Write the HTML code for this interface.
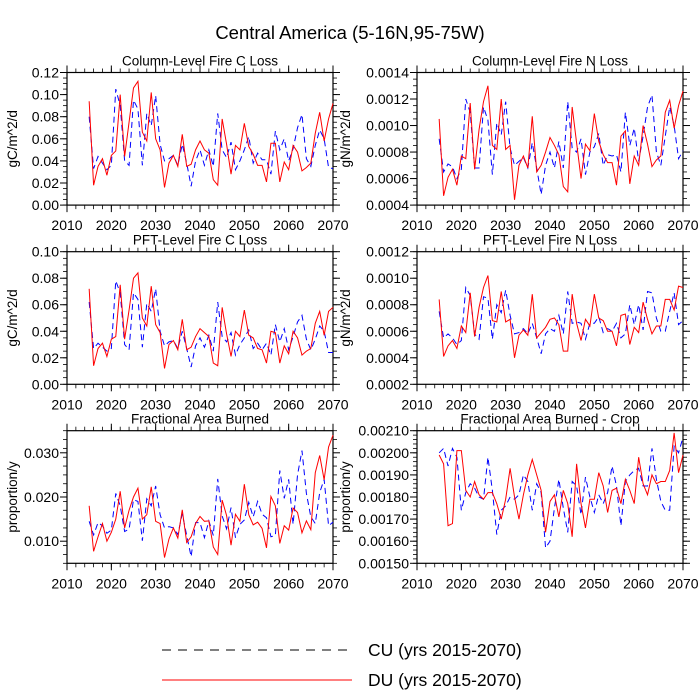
<!DOCTYPE html>
<html><head><meta charset="utf-8"><style>
body{margin:0;background:#fff}
svg{display:block;font-family:"Liberation Sans",Arial,sans-serif}
</style></head><body>
<svg id="chart" width="700" height="700" xmlns="http://www.w3.org/2000/svg">
<text x="350" y="39" font-size="18.5" text-anchor="middle">Central America (5-16N,95-75W)</text>
<g>
<line x1="162" y1="650" x2="352" y2="650" stroke="#000" stroke-width="1" stroke-dasharray="9,7"/>
<text x="368" y="656" font-size="17.5">CU (yrs 2015-2070)</text>
<line x1="162" y1="680" x2="352" y2="680" stroke="#f00" stroke-width="1"/>
<text x="368" y="686" font-size="17.5">DU (yrs 2015-2070)</text>
</g>
</svg>
<script>
const years=[];for(let y=2015;y<=2070;y++)years.push(y);
const xTicks=[2010,2020,2030,2040,2050,2060,2070];
const titles=["Column-Level Fire C Loss","Column-Level Fire N Loss","PFT-Level Fire C Loss","PFT-Level Fire N Loss","Fractional Area Burned","Fractional Area Burned - Crop"];
const yTitles=["gC/m^2/d","gN/m^2/d","gC/m^2/d","gN/m^2/d","proportion/y","proportion/y"];
const yTicks1=[0,0.02,0.04,0.06,0.08,0.10,0.12];
const yTicks2=[0.0004,0.0006,0.0008,0.0010,0.0012,0.0014];
const yTicks3=[0,0.02,0.04,0.06,0.08,0.10];
const yTicks4=[0.0002,0.0004,0.0006,0.0008,0.0010,0.0012];
const yTicks5=[0.010,0.020,0.030];
const yTicks6=[0.00150,0.00160,0.00170,0.00180,0.00190,0.00200,0.00210];
const du1=[.094,.018,.035,.042,.027,.045,.049,.100,.044,.075,.106,.112,.066,.058,.102,.060,.050,.016,.038,.045,.035,.064,.035,.037,.050,.058,.050,.047,.023,.018,.078,.055,.028,.054,.050,.074,.053,.046,.036,.036,.021,.056,.056,.021,.039,.032,.054,.048,.031,.034,.038,.065,.084,.058,.078,.092];
const cu1=[.080,.033,.044,.038,.032,.036,.105,.090,.040,.036,.095,.087,.036,.083,.072,.099,.055,.040,.042,.045,.036,.055,.038,.017,.040,.050,.036,.050,.035,.083,.050,.043,.057,.032,.040,.050,.062,.038,.047,.041,.041,.028,.067,.050,.060,.040,.051,.070,.082,.042,.035,.054,.068,.060,.034,.033];
const du2=[.00105,.00047,.00061,.00067,.00055,.00077,.00075,.00117,.00067,.00097,.00118,.00130,.00085,.00082,.00120,.00082,.00085,.00044,.00070,.00077,.00068,.00107,.00065,.00070,.00080,.00091,.00085,.00078,.00054,.00050,.00114,.00087,.00060,.00086,.00081,.00109,.00088,.00078,.00072,.00072,.00055,.00092,.00096,.00056,.00077,.00070,.00100,.00086,.00069,.00074,.00077,.00110,.00119,.00098,.00115,.00126];
const cu2=[.00090,.00065,.00071,.00069,.00060,.00067,.00120,.00110,.00068,.00068,.00114,.00104,.00063,.00102,.00093,.00118,.00083,.00070,.00073,.00076,.00068,.00087,.00068,.00048,.00070,.00080,.00068,.00088,.00068,.00118,.00083,.00080,.00090,.00063,.00080,.00084,.00094,.00070,.00078,.00077,.00078,.00065,.00110,.00085,.00098,.00073,.00092,.00114,.00123,.00080,.00070,.00092,.00114,.00100,.00075,.00081];
const du3=[.072,.014,.027,.031,.021,.034,.036,.075,.034,.056,.080,.084,.050,.044,.074,.045,.039,.012,.030,.033,.026,.049,.026,.028,.036,.042,.039,.036,.016,.014,.058,.038,.021,.040,.036,.056,.037,.035,.027,.026,.016,.040,.039,.016,.029,.023,.040,.035,.022,.025,.027,.046,.055,.037,.055,.058];
const cu3=[.062,.027,.031,.028,.025,.027,.078,.069,.030,.026,.069,.064,.028,.061,.055,.072,.040,.029,.032,.033,.027,.040,.027,.013,.029,.035,.028,.037,.025,.062,.036,.032,.039,.022,.030,.035,.041,.027,.031,.026,.031,.022,.045,.032,.042,.026,.036,.047,.052,.034,.026,.034,.044,.040,.024,.024];
const du4=[.00084,.00041,.00049,.00053,.00047,.00064,.00059,.00089,.00056,.00078,.00093,.00102,.00068,.00067,.00090,.00067,.00069,.00040,.00057,.00061,.00057,.00088,.00055,.00059,.00063,.00069,.00070,.00065,.00045,.00045,.00088,.00066,.00053,.00069,.00064,.00088,.00070,.00068,.00060,.00060,.00049,.00072,.00073,.00050,.00063,.00059,.00082,.00069,.00058,.00064,.00064,.00084,.00084,.00076,.00094,.00093];
const cu4=[.00075,.00055,.00058,.00055,.00050,.00053,.00093,.00087,.00058,.00054,.00086,.00085,.00054,.00080,.00074,.00091,.00072,.00058,.00059,.00062,.00058,.00066,.00055,.00043,.00058,.00062,.00060,.00072,.00058,.00090,.00066,.00067,.00066,.00054,.00066,.00066,.00071,.00059,.00062,.00060,.00066,.00055,.00058,.00080,.00065,.00080,.00061,.00090,.00089,.00070,.00060,.00060,.00075,.00089,.00065,.00068];
const du5=[.018,.0077,.011,.014,.010,.012,.015,.0213,.013,.017,.020,.022,.015,.016,.0223,.0145,.014,.0063,.0105,.013,.0107,.0171,.0097,.011,.014,.0156,.0145,.0146,.0087,.0070,.0193,.0158,.0091,.0161,.0145,.0229,.016,.0137,.0143,.0129,.0085,.0201,.018,.0095,.0135,.0125,.0175,.0165,.0119,.0146,.0126,.0255,.0294,.0239,.0313,.034];
const cu5=[.0145,.0114,.0142,.0135,.0118,.0125,.0208,.018,.0122,.0127,.0194,.019,.0101,.0196,.018,.0225,.016,.013,.0133,.013,.0115,.0162,.0113,.0065,.0142,.0142,.0108,.0146,.0113,.0241,.0157,.0128,.0176,.0108,.0138,.0148,.0188,.0155,.0190,.0161,.0153,.011,.0113,.026,.0197,.0240,.0138,.025,.0305,.0208,.0155,.0140,.0210,.0240,.0135,.0143];
const du6=[.00199,.00195,.00167,.00168,.00201,.00201,.00183,.00180,.00187,.00181,.00179,.00182,.00182,.00177,.00170,.00179,.00193,.00180,.00170,.00181,.00190,.00197,.00190,.00183,.00164,.00178,.00181,.00171,.00183,.00177,.00162,.00195,.00177,.00166,.00179,.00179,.00191,.00185,.00173,.00183,.00184,.00177,.00188,.00183,.00177,.00198,.00186,.00181,.00190,.00186,.00187,.00187,.00192,.00209,.00191,.00199];
const cu6=[.00200,.00202,.00194,.00202,.00198,.00174,.00182,.00186,.00184,.00180,.00179,.00198,.00183,.00163,.00174,.00176,.00180,.00179,.00181,.00190,.00187,.00174,.00186,.00182,.00157,.00160,.00175,.00188,.00175,.00164,.00187,.00185,.00172,.00189,.00180,.00173,.00181,.00177,.00182,.00194,.00185,.00167,.00187,.00190,.00192,.00193,.00185,.00185,.00202,.00188,.00178,.00174,.00174,.00203,.00200,.00207];

const panels=[
 {du:du1,cu:cu1,ticks:yTicks1,min:0,max:0.12,dec:2,minor:0.005},
 {du:du2,cu:cu2,ticks:yTicks2,min:0.0004,max:0.0014,dec:4,minor:0.00005},
 {du:du3,cu:cu3,ticks:yTicks3,min:0,max:0.10,dec:2,minor:0.005},
 {du:du4,cu:cu4,ticks:yTicks4,min:0.0002,max:0.0012,dec:4,minor:0.00005},
 {du:du5,cu:cu5,ticks:yTicks5,min:0.005,max:0.035,dec:3,minor:0.002},
 {du:du6,cu:cu6,ticks:yTicks6,min:0.0015,max:0.0021,dec:5,minor:0.00002}
];
const svg=document.getElementById('chart');
const NS='http://www.w3.org/2000/svg';
function mk(tag,attrs,parent){const e=document.createElementNS(NS,tag);for(const k in attrs)e.setAttribute(k,attrs[k]);parent.appendChild(e);return e;}
const lefts=[67,417],tops=[72.5,251.7,430.7],W=266,H=132.6;
panels.forEach((p,i)=>{
 const L=lefts[i%2],T=tops[Math.floor(i/2)],R=L+W,B=T+H;
 const g=mk('g',{},svg);
 
 
 const xs=v=>L+(v-2010)/60*W;
 const ys=v=>B-(v-p.min)/(p.max-p.min)*H;
 const t=mk('text',{x:(L+R)/2,y:T-7,'font-size':13.5,'text-anchor':'middle'},g);
 t.textContent=titles[i];
 
 
 const yt=mk('text',{x:0,y:0,'font-size':13.5,'text-anchor':'middle',transform:`translate(${i%2?350:17},${(T+B)/2}) rotate(-90)`},g);
 yt.textContent=yTitles[i];
 
 
 for(let v=p.min;v<=p.max+1e-12;v+=p.minor){const y=ys(v);
  mk('line',{x1:L-4,y1:y,x2:L,y2:y,stroke:'#000','stroke-width':0.8},g);
  mk('line',{x1:R,y1:y,x2:R+4,y2:y,stroke:'#000','stroke-width':0.8},g);}
 p.ticks.forEach(v=>{const y=ys(v);
  mk('line',{x1:L-7,y1:y,x2:L,y2:y,stroke:'#000','stroke-width':1},g);
  mk('line',{x1:R,y1:y,x2:R+7,y2:y,stroke:'#000','stroke-width':1},g);
  const tl=mk('text',{x:L-8,y:y+5,'font-size':14,'text-anchor':'end'},g);
  tl.textContent=v.toFixed(p.dec);
  
  });
 for(let yr=2012;yr<=2070;yr+=2){const x=xs(yr);
  mk('line',{x1:x,y1:B,x2:x,y2:B+4,stroke:'#000','stroke-width':0.8},g);
  mk('line',{x1:x,y1:T-4,x2:x,y2:T,stroke:'#000','stroke-width':0.8},g);}
 xTicks.forEach(v=>{const x=xs(v);
  mk('line',{x1:x,y1:B,x2:x,y2:B+7,stroke:'#000','stroke-width':1},g);
  mk('line',{x1:x,y1:T-7,x2:x,y2:T,stroke:'#000','stroke-width':1},g);
  const tl=mk('text',{x:x,y:B+25,'font-size':14,'text-anchor':'middle'},g);
  tl.textContent=v;
  
  });
 const frame=mk('rect',{x:L,y:T,width:W,height:H,fill:'none',stroke:'#000','stroke-width':1.2},g);
 
 
 const cl=mk('polyline',{points:years.map((yr,j)=>xs(yr)+','+ys(p.cu[j])).join(' '),fill:'none',stroke:'#00f','stroke-width':1,'stroke-dasharray':'6,4'},g);
 
 
 const dl=mk('polyline',{points:years.map((yr,j)=>xs(yr)+','+ys(p.du[j])).join(' '),fill:'none',stroke:'#f00','stroke-width':1},g);
 
 
});
</script>
</body></html>
